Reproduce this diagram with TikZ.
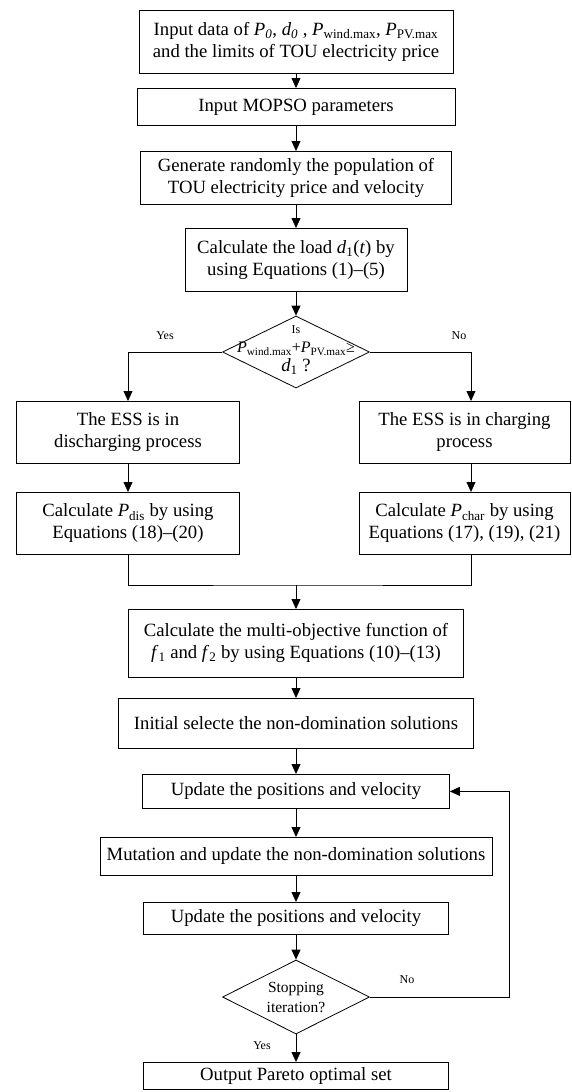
\documentclass[tikz,border=0pt]{standalone}
\usepackage{fontspec}
\setmainfont{Liberation Serif}
\usetikzlibrary{arrows.meta,shapes.geometric,calc}

\begin{document}
\begin{tikzpicture}[x=1pt,y=-1pt,
      line width=0.8pt,
      every node/.style={font=\fontsize{18.7}{22}\selectfont},
      box/.style={draw,align=center,inner sep=0pt,anchor=north},
      dec/.style={draw,diamond,inner sep=0pt},
      arr/.style={-{Triangle[length=10pt,width=9pt]}},
      lbl/.style={font=\fontsize{12}{14}\selectfont}
    ]
      \useasboundingbox (0,0) rectangle (571,1092);
      % main column
      \node[box,minimum width=314pt,minimum height=63pt] (input) at (296,10)
        {Input data of \textit{P}\textsubscript{\textit{0}}, \textit{d}\textsubscript{\textit{0}} , \textit{P}\textsubscript{wind.max}, \textit{P}\textsubscript{PV.max}\\and the limits of TOU electricity price};
      \node[box,minimum width=318pt,minimum height=37pt] (mopso) at (296,88) {Input MOPSO parameters};
      \node[box,minimum width=311pt,minimum height=53pt] (genpop) at (296,151)
        {Generate randomly the population of\\TOU electricity price and velocity};
      \node[box,minimum width=222pt,minimum height=63pt] (load) at (296,228)
        {Calculate the load \textit{d}\textsubscript{1}(\textit{t}) by\\using Equations (1)--(5)};
      \node[dec,minimum width=147pt,minimum height=72pt] (check) at (296,352) {};
      \node[align=center,font=\fontsize{16}{19}\selectfont] (checktxt) at (296,350)
        {{\fontsize{12}{14}\selectfont Is}\\\textit{P}\textsubscript{wind.max}+\textit{P}\textsubscript{PV.max}≥\\{\fontsize{18.7}{22}\selectfont\textit{d}\textsubscript{1} ?}};
      % two branches
      \node[box,minimum width=223pt,minimum height=62pt] (dis) at (128,401)
        {The ESS is in\\discharging process};
      \node[box,minimum width=211pt,minimum height=62pt] (chr) at (464.5,401)
        {The ESS is in charging\\process};
      \node[box,minimum width=223pt,minimum height=62pt] (pdis) at (128,492)
        {Calculate \textit{P}\textsubscript{dis} by using\\Equations (18)--(20)};
      \node[box,minimum width=211pt,minimum height=62pt] (pchar) at (464.5,492)
        {Calculate \textit{P}\textsubscript{char} by using\\Equations (17), (19), (21)};
      \node[box,minimum width=335pt,minimum height=68pt] (multi) at (296,609)
        {Calculate the multi-objective function of\\\textit{f}\textsubscript{1} and \textit{f}\textsubscript{2} by using Equations (10)--(13)};
      \node[box,minimum width=355pt,minimum height=50pt] (initsel) at (296,698)
        {Initial selecte the non-domination solutions};
      \node[box,minimum width=307pt,minimum height=34pt] (upd) at (296,774)
        {Update the positions and velocity};
      \node[box,minimum width=392pt,minimum height=38pt] (mut) at (296,837)
        {Mutation and update the non-domination solutions};
      \node[box,minimum width=305pt,minimum height=32pt] (upd2) at (296,902)
        {Update the positions and velocity};
      \node[dec,minimum width=147pt,minimum height=74pt] (stop) at (296,997) {};
      \node[align=center,font=\fontsize{15.5}{20}\selectfont] (stoptxt) at (296,997)
        {Stopping\\iteration?};
      \node[box,minimum width=305pt,minimum height=27pt] (out) at (296,1062)
        {Output Pareto optimal set};
      % labels
      \node[lbl] (yes1) at (165,336) {Yes};
      \node[lbl] (no1) at (459,336) {No};
      \node[lbl] (no2) at (407,980) {No};
      \node[lbl] (yes2) at (262,1046) {Yes};
      \coordinate (join) at (296,585);
      \coordinate (fb) at (509,997);
      % connectors
      \draw[arr] (input) -- (mopso);
      \draw[arr] (mopso) -- (genpop);
      \draw[arr] (genpop) -- (load);
      \draw[arr] (load) -- (check);
      \draw[arr] (check.west) -| (dis.north);
      \draw[arr] (check.east) -| ([xshift=6.5pt]chr.north);
      \draw[arr] (dis) -- (pdis);
      \draw[arr] ([xshift=6.5pt]chr.south) -- ([xshift=6.5pt]pchar.north);
      \draw (pdis.south) |- (join) -| ([xshift=6.5pt]pchar.south);
      \draw[arr] (join) -- (multi);
      \draw[arr] (multi) -- (initsel);
      \draw[arr] (initsel) -- (upd);
      \draw[arr] (upd) -- (mut);
      \draw[arr] (mut) -- (upd2);
      \draw[arr] (upd2) -- (stop);
      \draw[arr] (stop) -- (out);
      \draw[arr] (stop.east) -- (fb) |- (upd.east);
    \end{tikzpicture}
\end{document}
